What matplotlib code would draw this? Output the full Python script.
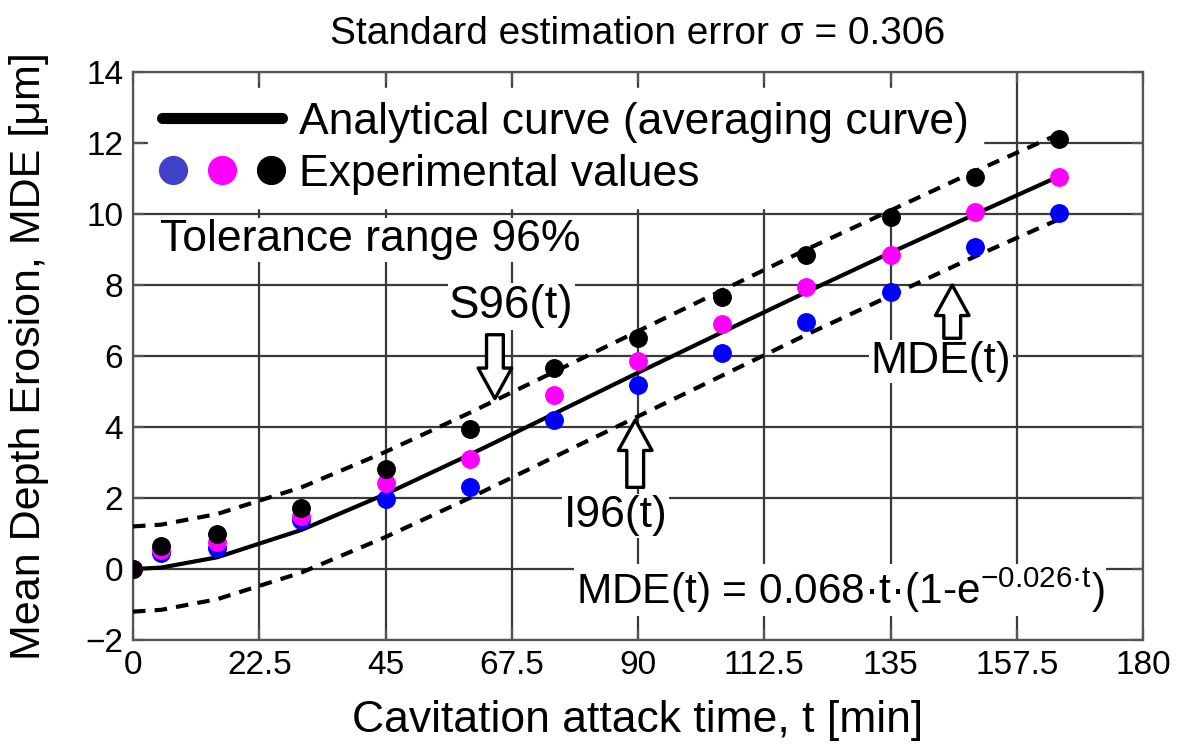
import matplotlib
matplotlib.use('Agg')
import matplotlib.pyplot as plt
from matplotlib.lines import Line2D
from matplotlib.legend_handler import HandlerTuple

plt.rcParams['font.family'] = ['Liberation Sans', 'DejaVu Sans']
plt.rcParams['mathtext.fontset'] = 'custom'
plt.rcParams['mathtext.rm'] = 'Liberation Sans'

# data
t = [0, 5, 15, 30, 45, 60, 75, 90, 105, 120, 135, 150, 165]
mde_blue = [0.0, 0.45, 0.59, 1.38, 1.97, 2.3, 4.2, 5.18, 6.09, 6.97, 7.81, 9.08, 10.02]
mde_magenta = [0.0, 0.55, 0.75, 1.5, 2.42, 3.1, 4.9, 5.86, 6.9, 7.94, 8.85, 10.07, 11.03]
mde_black = [0.0, 0.66, 0.99, 1.72, 2.82, 3.94, 5.66, 6.5, 7.67, 8.85, 9.92, 11.05, 12.1]
curve = [0.0, 0.04, 0.33, 1.1, 2.11, 3.22, 4.37, 5.53, 6.67, 7.8, 8.91, 9.99, 11.06]
upper = [1.2, 1.25, 1.55, 2.3, 3.3, 4.4, 5.55, 6.7, 7.85, 9.0, 10.1, 11.2, 12.25]
lower = [-1.2, -1.15, -0.85, -0.1, 0.9, 2.0, 3.15, 4.3, 5.45, 6.6, 7.7, 8.8, 9.85]
xticks = [0, 22.5, 45, 67.5, 90, 112.5, 135, 157.5, 180]
xtick_labels = ['0', '22.5', '45', '67.5', '90', '112.5', '135', '157.5', '180']
yticks = list(range(-2, 15, 2))

fig = plt.figure(figsize=(11.95, 7.47), dpi=100)
ax = fig.add_axes([0.1113, 0.1432, 0.8452, 0.7604])

grid_col = '#3a3a3a'
ax.set_xlim(0, 180)
ax.set_ylim(-2, 14)
ax.set_xticks(xticks)
ax.set_xticklabels(xtick_labels)
ax.set_yticks(yticks)
ax.set_yticklabels(['\u22122'] + [str(v) for v in yticks[1:]])
ax.grid(True, color=grid_col, linewidth=1.6, zorder=0)
ax.set_axisbelow(True)
for s in ax.spines.values():
    s.set_color('#555555')
    s.set_linewidth(1.6)
ax.tick_params(direction='in', length=8, width=1.6, color='#555555',
               top=True, right=True, labelsize=24, pad=7)

ax.plot(t, upper, '--', color='black', lw=3, dashes=(3, 2.2), zorder=3)
ax.plot(t, lower, '--', color='black', lw=3, dashes=(3, 2.2), zorder=3)
ax.plot(t, curve, '-', color='black', lw=3, zorder=3)
ax.scatter(t, mde_blue, s=185, color='#0000ff', zorder=4, linewidths=0)
ax.scatter(t, mde_magenta, s=185, color='#ff00ff', zorder=5, linewidths=0)
ax.scatter(t, mde_black, s=185, color='black', zorder=6, linewidths=0)

ax.set_title('Standard estimation error \u03c3 = 0.306', fontsize=28, pad=20)
ax.set_xlabel('Cavitation attack time, t [min]', fontsize=32, labelpad=14)
ax.set_ylabel('Mean Depth Erosion, MDE [\u03bcm]', fontsize=31, labelpad=26)

# legend
h_line = Line2D([], [], color='black', lw=8, solid_capstyle='round')
h_dots = tuple(Line2D([], [], marker='o', ls='', color=c, markersize=20)
               for c in ['#4040c8', '#ff00ff', 'black'])
leg = ax.legend([h_line, h_dots],
                ['Analytical curve (averaging curve)', 'Experimental values'],
                handler_map={tuple: HandlerTuple(ndivide=None, pad=0.6)},
                loc='upper left', bbox_to_anchor=(0.002, 0.995), fontsize=32,
                handlelength=2.7, handletextpad=0.4, labelspacing=0.25,
                borderpad=0.3, borderaxespad=0.3, fancybox=False, framealpha=1,
                facecolor='white', edgecolor='white')
leg.set_zorder(2.5)

box = dict(facecolor='white', edgecolor='none', pad=1)
ax.text(4.8, 9.27, 'Tolerance range 96%', fontsize=32, va='center', ha='left',
        bbox=box, zorder=2)
ax.text(67.5, 7.4, 'S96(t)', fontsize=33, va='center', ha='center', bbox=box, zorder=2)
ax.text(86.0, 1.5, 'I96(t)', fontsize=32, va='center', ha='center', bbox=box, zorder=2)
ax.text(144.0, 5.85, 'MDE(t)', fontsize=32, va='center', ha='center', bbox=box, zorder=2)
ax.text(126.0, -0.6, 'MDE(t) = 0.068\u00b7t\u00b7(1-e$^{\\mathrm{-0.026\u00b7t}}$)',
        fontsize=30.5, va='center', ha='center', bbox=box, zorder=2)

arrow = dict(arrowstyle='simple,head_length=1.0,head_width=1.1,tail_width=0.55',
             fc='white', ec='black', lw=2.4, mutation_scale=22, shrinkA=0, shrinkB=0)
ax.annotate('', xy=(64.5, 4.8), xytext=(64.5, 6.6), arrowprops=arrow, zorder=8)
ax.annotate('', xy=(89.5, 4.2), xytext=(89.5, 2.3), arrowprops=arrow, zorder=8)
ax.annotate('', xy=(146.0, 8.0), xytext=(146.0, 6.5), arrowprops=arrow, zorder=8)

fig.savefig('out.png', dpi=100)
